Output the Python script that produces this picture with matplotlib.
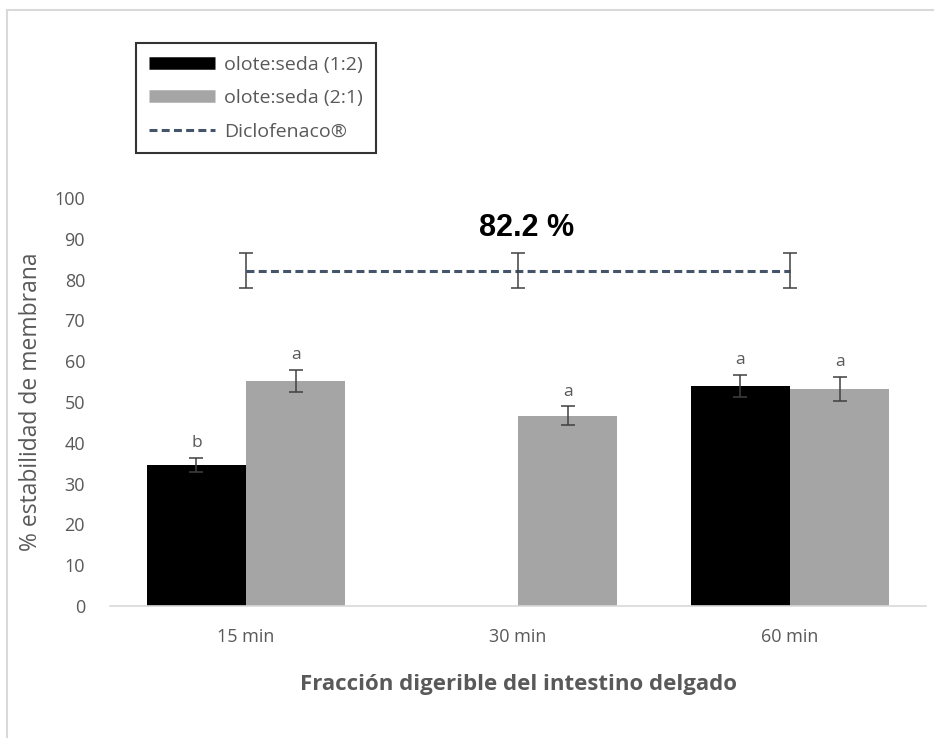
import numpy as np
import matplotlib
matplotlib.use("Agg")
import matplotlib.pyplot as plt
from matplotlib.lines import Line2D

# Data
categories = ["15 min", "30 min", "60 min"]
serie_12 = [34.6, 0.0, 54.0]          # olote:seda (1:2)
serie_12_err = [1.7, 0.0, 2.7]
serie_12_letters = ["b", "", "a"]
serie_21 = [55.2, 46.6, 53.2]         # olote:seda (2:1)
serie_21_err = [2.7, 2.3, 3.0]
serie_21_letters = ["a", "a", "a"]
diclofenaco = [82.2, 82.2, 82.2]
diclofenaco_err = [4.2, 4.2, 4.2]
yticks = list(range(0, 101, 10))

TXT = "#595959"
FONT = "Open Sans"
DASH = (2.6, 1.4)

fig = plt.figure(figsize=(9.34, 7.38), dpi=100)
ax = fig.add_axes([110 / 934, 132 / 738, 816 / 934, 408 / 738])

x = np.arange(len(categories))
w = 0.365
ax.bar(x - w / 2, serie_12, w, color="black", linewidth=0, zorder=2)
ax.bar(x + w / 2, serie_21, w, color="#a5a5a5", linewidth=0, zorder=2)

ekw = dict(fmt="none", ecolor="#404040", elinewidth=1.1, capsize=5, capthick=1.1, zorder=3)
mask = np.array(serie_12) > 0
ax.errorbar((x - w / 2)[mask], np.array(serie_12)[mask], yerr=np.array(serie_12_err)[mask], **ekw)
ax.errorbar(x + w / 2, serie_21, yerr=serie_21_err, **ekw)

# Diclofenaco reference line
ax.plot(x, diclofenaco, color="#44546a", lw=2.2, dashes=DASH, zorder=3)
ax.errorbar(x, diclofenaco, yerr=diclofenaco_err, **ekw)

# Significance letters
for xs, vals, errs, labs in [(x - w / 2, serie_12, serie_12_err, serie_12_letters),
                             (x + w / 2, serie_21, serie_21_err, serie_21_letters)]:
    for xi, v, e, lab in zip(xs, vals, errs, labs):
        if lab:
            ax.annotate(lab, (xi, v + e), xytext=(0, 5), textcoords="offset points",
                        ha="center", va="bottom", fontsize=12.5, color=TXT, family=FONT)

ax.text(x[1] + 0.03, 92.6, f"{diclofenaco[0]:.1f} %", ha="center", va="center",
        fontsize=22, fontweight="bold", family="Liberation Sans", color="black")

ax.set_xlim(-0.5, 2.5)
ax.set_ylim(0, 100)
ax.set_yticks(yticks)
ax.set_xticks(x)
ax.set_xticklabels(categories)
for s in ["top", "right", "left"]:
    ax.spines[s].set_visible(False)
ax.spines["bottom"].set_color("#d9d9d9")
ax.spines["bottom"].set_linewidth(1.2)
ax.tick_params(axis="both", length=0, labelsize=13, labelcolor=TXT)
ax.tick_params(axis="y", pad=18)
ax.tick_params(axis="x", pad=16)
for lab in ax.get_xticklabels() + ax.get_yticklabels():
    lab.set_family(FONT)

ax.set_ylabel("% estabilidad de membrana", fontsize=16.5, color=TXT, family=FONT, labelpad=8)
ax.set_xlabel("Fracción digerible del intestino delgado", fontsize=16, color=TXT,
              family=FONT, fontweight="bold", labelpad=20)

handles = [Line2D([0], [0], color="black", lw=9, solid_capstyle="butt"),
           Line2D([0], [0], color="#a5a5a5", lw=9, solid_capstyle="butt"),
           Line2D([0], [0], color="#44546a", lw=2.2, dashes=DASH)]
labels = ["olote:seda (1:2)", "olote:seda (2:1)", "Diclofenaco\u00ae"]
leg = fig.legend(handles, labels, loc="upper left", bbox_to_anchor=(136 / 934, 1 - 43 / 738),
                 frameon=True, fancybox=False, edgecolor="black", handlelength=3.4,
                 handletextpad=0.5, labelspacing=0.8, borderpad=0.65, borderaxespad=0,
                 prop={"family": FONT, "size": 14})
leg.get_frame().set_linewidth(1.5)
for t in leg.get_texts():
    t.set_color(TXT)

# Outer chart frame
fig.add_artist(Line2D([7 / 934, 1], [1 - 10 / 738, 1 - 10 / 738], color="#d9d9d9", lw=1.5,
                      transform=fig.transFigure))
fig.add_artist(Line2D([7 / 934, 7 / 934], [0, 1 - 10 / 738], color="#d9d9d9", lw=1.5,
                      transform=fig.transFigure))

fig.savefig("out.png", dpi=100)
